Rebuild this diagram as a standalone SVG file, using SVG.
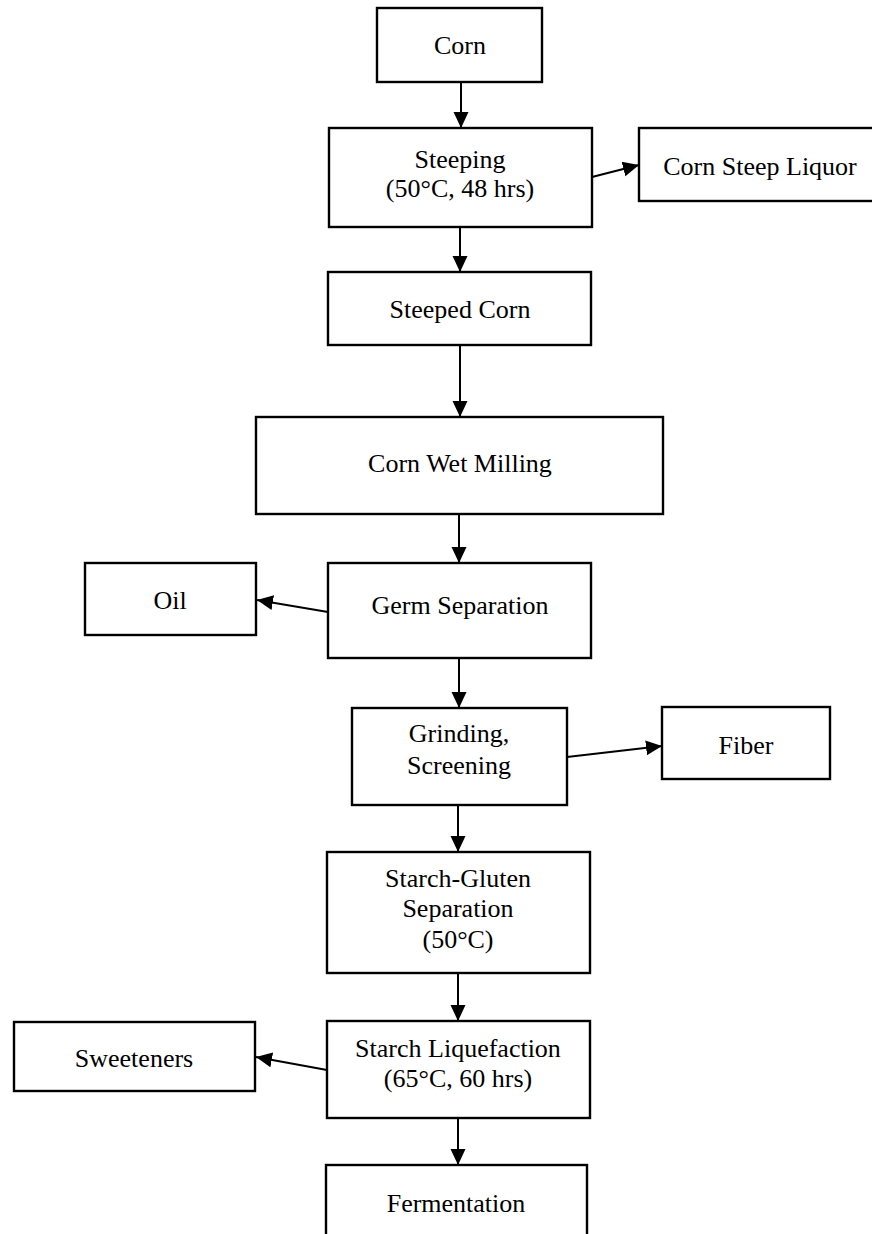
<svg xmlns="http://www.w3.org/2000/svg" width="872" height="1234" viewBox="0 0 872 1234">
<style>
.box{fill:#fff;stroke:#000;stroke-width:2.4}
.t{font-family:"Liberation Serif","Times New Roman",serif;font-size:26px;fill:#000;text-anchor:middle}
.c{stroke:#000;stroke-width:2;fill:none}
</style>
<defs>
<marker id="ah" markerUnits="userSpaceOnUse" markerWidth="18" markerHeight="18" viewBox="0 0 18 18" refX="16" refY="9" orient="auto">
<path d="M0,1.5 L16,9 L0,16.5 Z" fill="#000"/>
</marker>
</defs>
<rect width="872" height="1234" fill="#fff"/>
<g id="connectors">
<line class="c" x1="461" y1="82" x2="461" y2="128" marker-end="url(#ah)"/>
<line class="c" x1="592" y1="177" x2="639" y2="165" marker-end="url(#ah)"/>
<line class="c" x1="460" y1="227" x2="460" y2="272" marker-end="url(#ah)"/>
<line class="c" x1="460" y1="345" x2="460" y2="417" marker-end="url(#ah)"/>
<line class="c" x1="459" y1="514" x2="459" y2="563" marker-end="url(#ah)"/>
<line class="c" x1="328" y1="612" x2="257" y2="600" marker-end="url(#ah)"/>
<line class="c" x1="459" y1="658" x2="459" y2="708" marker-end="url(#ah)"/>
<line class="c" x1="567" y1="757" x2="662" y2="746" marker-end="url(#ah)"/>
<line class="c" x1="458" y1="805" x2="458" y2="852" marker-end="url(#ah)"/>
<line class="c" x1="458" y1="973" x2="458" y2="1021" marker-end="url(#ah)"/>
<line class="c" x1="327" y1="1070" x2="256" y2="1057" marker-end="url(#ah)"/>
<line class="c" x1="458" y1="1118" x2="458" y2="1165" marker-end="url(#ah)"/>
</g>
<g id="corn">
<rect class="box" x="377" y="8" width="165" height="74"/>
<text class="t" x="460" y="54">Corn</text>
</g>
<g id="steeping">
<rect class="box" x="329" y="128" width="263" height="99"/>
<text class="t" x="460" y="168">Steeping</text>
<text class="t" x="460" y="197">(50°C, 48 hrs)</text>
</g>
<g id="corn-steep-liquor">
<rect class="box" x="639" y="128" width="250" height="73"/>
<text class="t" x="760" y="175">Corn Steep Liquor</text>
</g>
<g id="steeped-corn">
<rect class="box" x="328" y="272" width="263" height="73"/>
<text class="t" x="460" y="318">Steeped Corn</text>
</g>
<g id="corn-wet-milling">
<rect class="box" x="256" y="417" width="407" height="97"/>
<text class="t" x="460" y="472">Corn Wet Milling</text>
</g>
<g id="oil">
<rect class="box" x="85" y="563" width="171" height="72"/>
<text class="t" x="170" y="609">Oil</text>
</g>
<g id="germ-separation">
<rect class="box" x="328" y="563" width="263" height="95"/>
<text class="t" x="460" y="614">Germ Separation</text>
</g>
<g id="grinding-screening">
<rect class="box" x="352" y="708" width="215" height="97"/>
<text class="t" x="459" y="742">Grinding,</text>
<text class="t" x="459" y="774">Screening</text>
</g>
<g id="fiber">
<rect class="box" x="662" y="707" width="168" height="72"/>
<text class="t" x="746" y="754">Fiber</text>
</g>
<g id="starch-gluten">
<rect class="box" x="327" y="852" width="263" height="121"/>
<text class="t" x="458" y="887">Starch-Gluten</text>
<text class="t" x="458" y="917">Separation</text>
<text class="t" x="458" y="948">(50°C)</text>
</g>
<g id="sweeteners">
<rect class="box" x="14" y="1022" width="241" height="69"/>
<text class="t" x="134" y="1067">Sweeteners</text>
</g>
<g id="starch-liquefaction">
<rect class="box" x="327" y="1021" width="263" height="97"/>
<text class="t" x="458" y="1057">Starch Liquefaction</text>
<text class="t" x="458" y="1087">(65°C, 60 hrs)</text>
</g>
<g id="fermentation">
<rect class="box" x="326" y="1165" width="261" height="90"/>
<text class="t" x="456" y="1212">Fermentation</text>
</g>
</svg>
